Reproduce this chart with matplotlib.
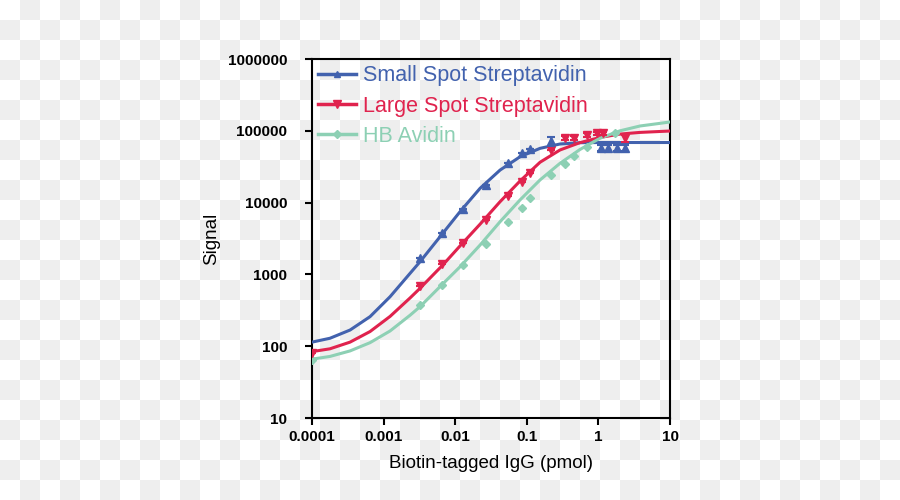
import numpy as np
import matplotlib.pyplot as plt
from matplotlib.lines import Line2D
from matplotlib.ticker import NullLocator

plt.rcParams['font.family'] = ['Liberation Sans', 'DejaVu Sans']

# fitted curves
small_curve_x = [0.0001, 0.000178, 0.00034, 0.000646, 0.00123, 0.00234, 0.00322, 0.00614,
                 0.0117, 0.0222, 0.0423, 0.0804, 0.153, 0.291, 0.553, 1.05, 3.81, 10]
small_curve_y = [114, 129, 168, 258, 489, 1035, 1500, 3350,
                 7500, 15800, 28400, 43500, 57000, 65500, 68200, 68700, 68700, 68700]

large_curve_x = [0.0001, 0.000178, 0.00034, 0.000646, 0.00123, 0.00234, 0.00322, 0.00683,
                 0.0117, 0.0222, 0.0423, 0.0804, 0.153, 0.291, 0.553, 1.05, 2.0, 3.81, 10]
large_curve_y = [84, 92, 114, 160, 260, 470, 640, 1380,
                 2500, 5000, 10300, 20000, 36500, 54100, 68500, 80700, 90000, 95000, 99300]

hb_curve_x = [0.0001, 0.000178, 0.00034, 0.000646, 0.00123, 0.00234, 0.00322, 0.00683,
              0.0117, 0.0222, 0.0423, 0.0804, 0.153, 0.291, 0.553, 1.05, 2.0, 3.81, 7.24, 10]
hb_curve_y = [66, 72, 86, 112, 163, 270, 355, 752,
              1280, 2560, 5420, 10900, 20700, 35300, 55000, 78700, 100000, 116700, 127000, 132800]

# measured points
small_x = [0.0032, 0.0065, 0.013, 0.027, 0.055, 0.085, 0.11, 0.22, 1.1, 1.37, 1.8, 2.36]
small_y = [1700, 3730, 8070, 17600, 36000, 48600, 55200, 72000, 58000, 58000, 58000, 58000]
small_err = [0, 0, 0, 0, 0, 0, 0, 11000, 6000, 6000, 6000, 6000]

large_x = [0.0001, 0.0032, 0.0065, 0.013, 0.027, 0.055, 0.085, 0.11, 0.22, 0.34,
           0.45, 0.69, 0.95, 1.17, 2.36]
large_y = [80, 700, 1400, 2710, 5730, 12400, 19500, 26100, 54000, 78700,
           80100, 87500, 92300, 92300, 78700]
large_err = [0, 0, 0, 0, 0, 0, 0, 0, 0, 5000, 5000, 5000, 5000, 5000, 8000]

hb_x = [0.0001, 0.0032, 0.0065, 0.013, 0.027, 0.055, 0.085, 0.11, 0.22, 0.34, 0.45, 0.7, 1.7]
hb_y = [64, 380, 720, 1350, 2650, 5420, 8330, 11600, 24200, 34100, 45000, 60100, 92300]

x_ticks = [0.0001, 0.001, 0.01, 0.1, 1, 10]
x_tick_labels = ["0.0001", "0.001", "0.01", "0.1", "1", "10"]
y_ticks = [10, 100, 1000, 10000, 100000, 1000000]
y_tick_labels = ["10", "100", "1000", "10000", "100000", "1000000"]

series_names = ["Small Spot Streptavidin", "Large Spot Streptavidin", "HB Avidin"]
blue = "#4262AE"
red = "#E0234E"
green = "#8DD0B4"


def checkerboard(w, h, size=20):
    yy, xx = np.mgrid[0:h, 0:w]
    board = (xx // size + yy // size) % 2
    shade = np.where(board == 1, 0.937, 1.0)
    return np.dstack([shade, shade, shade])


fig = plt.figure(figsize=(9, 5), dpi=100)
fig.figimage(checkerboard(900, 500), 0, 0, zorder=0)
ax = fig.add_axes([0.3467, 0.164, 0.3978, 0.718])
ax.set_zorder(2)
ax.set_facecolor("none")

ax.plot(small_curve_x, small_curve_y, color=blue, lw=2.2, zorder=3)
ax.plot(large_curve_x, large_curve_y, color=red, lw=2.2, zorder=3)
ax.plot(hb_curve_x, hb_curve_y, color=green, lw=2.2, zorder=3)

ax.errorbar(hb_x, hb_y, fmt="D", color=green, ms=4, zorder=4)
ax.errorbar(large_x, large_y, yerr=large_err, fmt="v", color=red, ms=5.5,
            capsize=3, elinewidth=1.5, capthick=1.5, zorder=5)
ax.errorbar(small_x, small_y, yerr=small_err, fmt="^", color=blue, ms=5.5,
            capsize=3, elinewidth=1.5, capthick=1.5, zorder=6)

ax.set_xscale("log")
ax.set_yscale("log")
ax.set_xlim(0.0001, 10)
ax.set_ylim(10, 1000000)
ax.set_xticks(x_ticks)
ax.set_xticklabels(x_tick_labels, fontweight="bold")
ax.set_yticks(y_ticks)
ax.set_yticklabels(y_tick_labels, fontweight="bold")
ax.xaxis.set_minor_locator(NullLocator())
ax.yaxis.set_minor_locator(NullLocator())
ax.tick_params(direction="out", length=5, width=1.5, labelsize=11, colors="black")
ax.tick_params(axis="y", pad=13)

for side in ["left", "bottom", "right", "top"]:
    ax.spines[side].set_linewidth(1.5)
    ax.spines[side].set_color("black")

ax.set_xlabel("Biotin-tagged IgG (pmol)", fontsize=13.5, labelpad=8)
ax.set_ylabel("Signal", fontsize=13.5, labelpad=5)

handles = [
    Line2D([], [], color=blue, lw=2.5, marker="^", ms=5),
    Line2D([], [], color=red, lw=2.5, marker="v", ms=6),
    Line2D([], [], color=green, lw=2.5, marker="D", ms=4),
]
leg = ax.legend(handles, series_names, loc="upper left", frameon=False, fontsize=15.5,
                handlelength=1.75, handletextpad=0.3, labelspacing=0.42,
                borderpad=0.2, borderaxespad=0.1, labelcolor="linecolor")

fig.savefig("out.png", dpi=100)
